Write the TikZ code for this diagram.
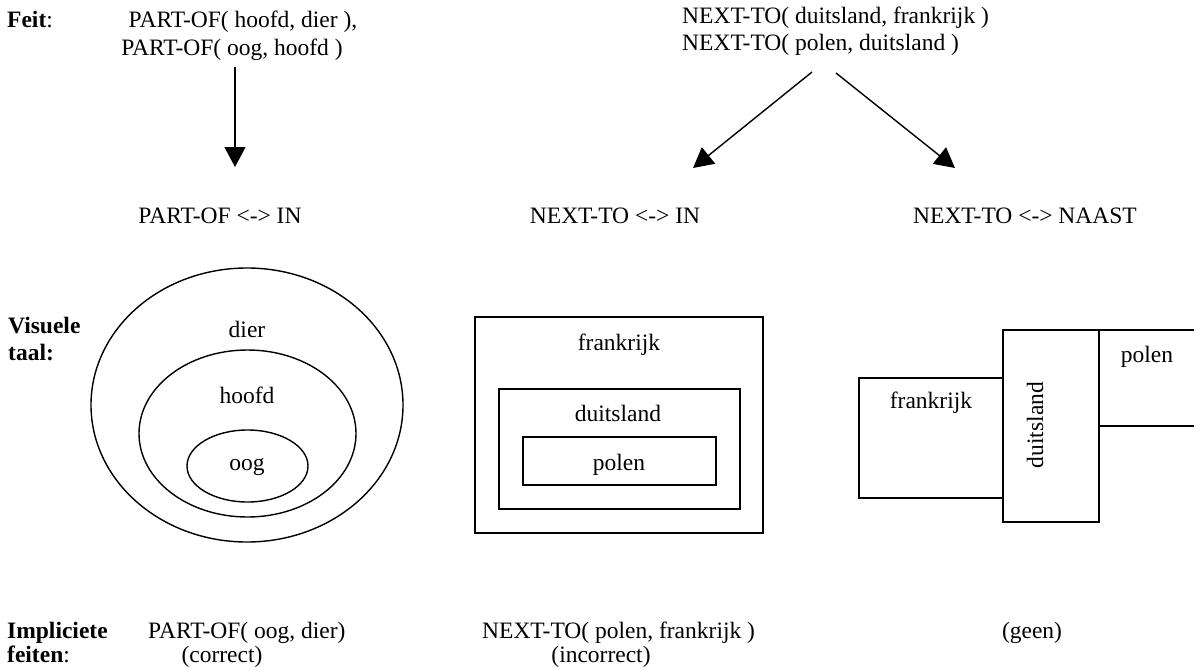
\documentclass[tikz,border=0pt]{standalone}
\usepackage{fontspec}
\setmainfont{Liberation Serif}
\usetikzlibrary{arrows.meta}
\begin{document}
\begin{tikzpicture}[x=1pt,y=-1pt,
  font=\fontsize{23.5}{28}\selectfont,
  txt/.style={anchor=base,inner sep=0pt},
  ltxt/.style={anchor=base west,inner sep=0pt},
  outline/.style={draw,line width=1.4pt},
  arr/.style={-{Triangle[width=21pt,length=20pt]},line width=1.4pt}]
\useasboundingbox (0,0) rectangle (1194,667);
% top facts
\node[ltxt] (feit) at (7,27) {\textbf{Feit}:};
\node[txt] (po1) at (243,27) {PART-OF( hoofd, dier ),};
\node[txt] (po2) at (232,55) {PART-OF( oog, hoofd )};
\node[ltxt] (nt1) at (682,23) {NEXT-TO( duitsland, frankrijk )};
\node[ltxt] (nt2) at (682,50) {NEXT-TO( polen, duitsland )};
% mapping labels
\node[txt] (l1) at (220,223) {PART-OF <-> IN};
\node[txt] (l2) at (615,223) {NEXT-TO <-> IN};
\node[txt] (l3) at (1025,223) {NEXT-TO <-> NAAST};
% arrows
\coordinate (a1s) at (235,67);  \coordinate (a1e) at (235,167);
\coordinate (a2s) at (812,72);  \coordinate (a2e) at (693,168);
\coordinate (a3s) at (836,73);  \coordinate (a3e) at (955,168);
\draw[arr] (a1s) -- (a1e);
\draw[arr] (a2s) -- (a2e);
\draw[arr] (a3s) -- (a3e);
% visual language label
\node[ltxt] (vt1) at (8,333) {\textbf{Visuele}};
\node[ltxt] (vt2) at (8,360) {\textbf{taal:}};
% ellipses
\draw[outline] (247,405) ellipse [x radius=156pt, y radius=137pt];
\draw[outline] (247.5,433.5) ellipse [x radius=108.5pt, y radius=83.5pt];
\draw[outline] (247.5,466) ellipse [x radius=60.5pt, y radius=36pt];
\node[txt] (dier) at (247,337) {dier};
\node[txt] (hoofd) at (247,403) {hoofd};
\node[txt] (oog) at (247,470) {oog};
% nested rectangles
\draw[outline] (475,317) rectangle (763,533);
\draw[outline] (499,389) rectangle (740,509);
\draw[outline] (523,437) rectangle (716,485);
\node[txt] (fr1) at (619,350) {frankrijk};
\node[txt] (du1) at (618,421) {duitsland};
\node[txt] (pl1) at (619,470) {polen};
% adjacent rectangles
\draw[outline] (859,378) rectangle (1003,498);
\draw[outline] (1003,330) rectangle (1099,522);
\draw[outline] (1200,330) -- (1099,330) -- (1099,426) -- (1200,426);
\node[txt] (fr2) at (931,408) {frankrijk};
\node[anchor=center,inner sep=0pt,rotate=90] (du2) at (1035,425) {duitsland};
\node[txt] (pl2) at (1147,362) {polen};
% implicit facts
\node[ltxt] (imp1) at (7,638) {\textbf{Impliciete}};
\node[ltxt] (imp2) at (7,662) {\textbf{feiten}:};
\node[ltxt] (if1) at (148,638) {PART-OF( oog, dier)};
\node[txt] (if1b) at (222,662) {(correct)};
\node[ltxt] (if2) at (482,638) {NEXT-TO( polen, frankrijk )};
\node[txt] (if2b) at (601,662) {(incorrect)};
\node[txt] (if3) at (1032,638) {(geen)};
\end{tikzpicture}
\end{document}
